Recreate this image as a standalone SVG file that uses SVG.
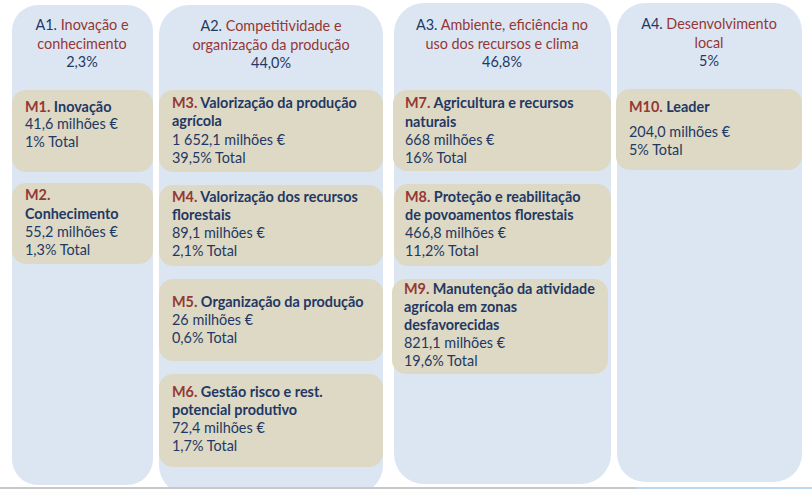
<svg xmlns="http://www.w3.org/2000/svg" width="812" height="489" viewBox="0 0 812 489">
<style>
.col{fill:#dce6f2}
.box{fill:#ddd9c4}
text{font-family:Lato,"Liberation Sans",sans-serif;font-size:14.4px;fill:#1f3864}
.h{text-anchor:middle}
.r{fill:#953735}
.b{font-weight:bold}
</style>
<rect width="812" height="489" fill="#ffffff"/>
<g id="A1">
<rect class="col" x="12" y="5" width="141" height="480" rx="26"/>
<text class="h" x="82" y="30"><tspan>A1.</tspan><tspan class="r"> Inovação e</tspan></text>
<text class="h r" x="82" y="49">conhecimento</text>
<text class="h" x="82" y="67">2,3%</text>
</g>
<g id="A2">
<rect class="col" x="159" y="5" width="224" height="490" rx="30"/>
<text class="h" x="271" y="31"><tspan>A2.</tspan><tspan class="r"> Competitividade e</tspan></text>
<text class="h r" x="271" y="50">organização da produção</text>
<text class="h" x="271" y="68">44,0%</text>
</g>
<g id="A3">
<rect class="col" x="394" y="3" width="217" height="481" rx="30"/>
<text class="h" x="502" y="30"><tspan>A3.</tspan><tspan class="r"> Ambiente, eficiência no</tspan></text>
<text class="h r" x="502" y="49">uso dos recursos e clima</text>
<text class="h" x="502" y="67">46,8%</text>
</g>
<g id="A4">
<rect class="col" x="617" y="3" width="185" height="479" rx="28"/>
<text class="h" x="709" y="29"><tspan>A4.</tspan><tspan class="r"> Desenvolvimento</tspan></text>
<text class="h r" x="709" y="48">local</text>
<text class="h" x="709" y="66">5%</text>
</g>
<g id="M1">
<rect class="box" x="12" y="90" width="141" height="82" rx="14"/>
<text x="25" y="112" class="b"><tspan class="r">M1.</tspan> Inovação</text>
<text x="25" y="129">41,6 milhões €</text>
<text x="25" y="147">1% Total</text>
</g>
<g id="M2">
<rect class="box" x="12" y="183" width="141" height="81" rx="14"/>
<text x="25" y="200" class="b r">M2.</text>
<text x="25" y="219" class="b">Conhecimento</text>
<text x="25" y="237">55,2 milhões €</text>
<text x="25" y="255">1,3% Total</text>
</g>
<g id="M3">
<rect class="box" x="159" y="90" width="224" height="82" rx="14"/>
<text x="172" y="108" class="b"><tspan class="r">M3.</tspan> Valorização da produção</text>
<text x="172" y="126" class="b">agrícola</text>
<text x="172" y="145">1 652,1 milhões €</text>
<text x="172" y="163">39,5% Total</text>
</g>
<g id="M4">
<rect class="box" x="159" y="185" width="224" height="81" rx="14"/>
<text x="172" y="202" class="b"><tspan class="r">M4.</tspan> Valorização dos recursos</text>
<text x="172" y="220" class="b">florestais</text>
<text x="172" y="238">89,1 milhões €</text>
<text x="172" y="256">2,1% Total</text>
</g>
<g id="M5">
<rect class="box" x="159" y="279" width="224" height="82" rx="14"/>
<text x="172" y="307" class="b"><tspan class="r">M5.</tspan> Organização da produção</text>
<text x="172" y="325">26 milhões €</text>
<text x="172" y="343">0,6% Total</text>
</g>
<g id="M6">
<rect class="box" x="159" y="374" width="224" height="93" rx="14"/>
<text x="172" y="397" class="b"><tspan class="r">M6.</tspan> Gestão risco e rest.</text>
<text x="172" y="415" class="b">potencial produtivo</text>
<text x="172" y="433">72,4 milhões €</text>
<text x="172" y="451">1,7% Total</text>
</g>
<g id="M7">
<rect class="box" x="393" y="90" width="218" height="81" rx="14"/>
<text x="405" y="108" class="b"><tspan class="r">M7.</tspan> Agricultura e recursos</text>
<text x="405" y="127" class="b">naturais</text>
<text x="405" y="145">668 milhões €</text>
<text x="405" y="163">16% Total</text>
</g>
<g id="M8">
<rect class="box" x="394" y="184" width="217" height="82" rx="14"/>
<text x="405" y="202" class="b"><tspan class="r">M8.</tspan> Proteção e reabilitação</text>
<text x="405" y="220" class="b">de povoamentos florestais</text>
<text x="405" y="238">466,8 milhões €</text>
<text x="405" y="256">11,2% Total</text>
</g>
<g id="M9">
<rect class="box" x="392" y="279" width="216" height="95" rx="14"/>
<text x="404" y="294" class="b"><tspan class="r">M9.</tspan> Manutenção da atividade</text>
<text x="404" y="312" class="b">agrícola em zonas</text>
<text x="404" y="330" class="b">desfavorecidas</text>
<text x="404" y="348">821,1 milhões €</text>
<text x="404" y="366">19,6% Total</text>
</g>
<g id="M10">
<rect class="box" x="616" y="89" width="186" height="81" rx="14"/>
<text x="629" y="112" class="b"><tspan class="r">M10.</tspan> Leader</text>
<text x="629" y="137">204,0 milhões €</text>
<text x="629" y="155">5% Total</text>
</g>
<g id="connectors"></g>
<rect x="0" y="487" width="812" height="2" fill="#c8c8c8"/>
<rect x="636" y="487" width="176" height="2" fill="#bdd7ee"/>
</svg>
